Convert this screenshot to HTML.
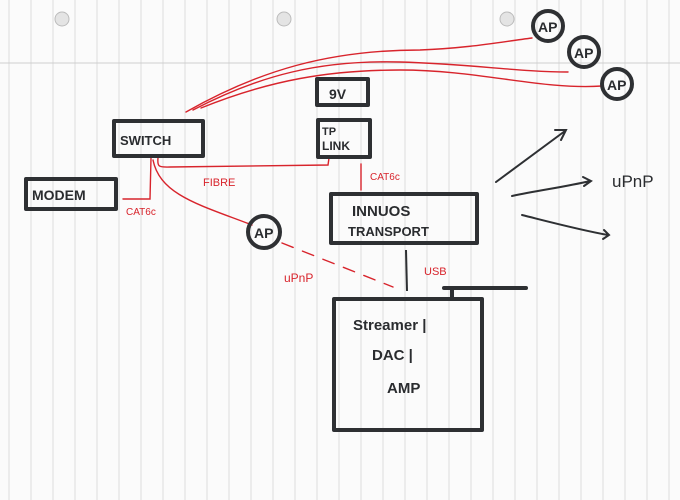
<!DOCTYPE html>
<html><head><meta charset="utf-8"><style>
html,body{margin:0;padding:0;background:#fbfbfb;}
svg{display:block}
.b{fill:none;stroke:#2e3033;stroke-width:4;stroke-linecap:round;stroke-linejoin:round}
.r{fill:none;stroke:#d8242c;stroke-width:1.4;stroke-linecap:round}
.t{font-family:"Liberation Sans",sans-serif;font-weight:bold;fill:#2a2c2f}
.rt{font-family:"Liberation Sans",sans-serif;fill:#d8242c}
</style></head><body>
<svg width="680" height="500" viewBox="0 0 680 500" xmlns="http://www.w3.org/2000/svg">
<rect width="680" height="500" fill="#fbfbfb"/>
<g stroke="#dcdcdc" stroke-width="1">
<line x1="9" y1="0" x2="9" y2="500"/><line x1="31" y1="0" x2="31" y2="500"/><line x1="53" y1="0" x2="53" y2="500"/><line x1="75" y1="0" x2="75" y2="500"/><line x1="97" y1="0" x2="97" y2="500"/><line x1="119" y1="0" x2="119" y2="500"/><line x1="141" y1="0" x2="141" y2="500"/><line x1="163" y1="0" x2="163" y2="500"/><line x1="185" y1="0" x2="185" y2="500"/><line x1="207" y1="0" x2="207" y2="500"/><line x1="229" y1="0" x2="229" y2="500"/><line x1="251" y1="0" x2="251" y2="500"/><line x1="273" y1="0" x2="273" y2="500"/><line x1="295" y1="0" x2="295" y2="500"/><line x1="317" y1="0" x2="317" y2="500"/><line x1="339" y1="0" x2="339" y2="500"/><line x1="361" y1="0" x2="361" y2="500"/><line x1="383" y1="0" x2="383" y2="500"/><line x1="405" y1="0" x2="405" y2="500"/><line x1="427" y1="0" x2="427" y2="500"/><line x1="449" y1="0" x2="449" y2="500"/><line x1="471" y1="0" x2="471" y2="500"/><line x1="493" y1="0" x2="493" y2="500"/><line x1="515" y1="0" x2="515" y2="500"/><line x1="537" y1="0" x2="537" y2="500"/><line x1="559" y1="0" x2="559" y2="500"/><line x1="581" y1="0" x2="581" y2="500"/><line x1="603" y1="0" x2="603" y2="500"/><line x1="625" y1="0" x2="625" y2="500"/><line x1="647" y1="0" x2="647" y2="500"/><line x1="669" y1="0" x2="669" y2="500"/>
<line x1="0" y1="63" x2="680" y2="63" stroke="#cfcfcf"/>
</g>
<g fill="#e4e4e4" stroke="#bbb" stroke-width="1">
<circle cx="62" cy="19" r="7"/><circle cx="284" cy="19" r="7"/><circle cx="507" cy="19" r="7"/>
</g>
<!-- red wires -->
<path class="r" d="M186,112 C260,70 330,50 420,50 C470,48 500,42 532,38"/>
<path class="r" d="M193,110 C260,75 320,60 400,62 C470,64 520,72 568,72"/>
<path class="r" d="M201,108 C270,80 330,70 400,70 C480,70 540,90 602,86"/>
<path class="r" d="M158,158 C157,168 160,167 170,167 L328,165 L329,158" stroke-width="2"/>
<path class="r" d="M151,158 L150,199 L123,199"/>
<path class="r" d="M153,160 C160,195 200,205 252,225"/>
<line class="r" x1="361" y1="164" x2="361" y2="190"/>
<line class="r" x1="282" y1="243" x2="393" y2="287" stroke-dasharray="12,10"/>
<text class="rt" x="203" y="186" font-size="11">FIBRE</text>
<text class="rt" x="370" y="180" font-size="10">CAT6c</text>
<text class="rt" x="126" y="215" font-size="10">CAT6c</text>
<text class="rt" x="284" y="282" font-size="12">uPnP</text>
<text class="rt" x="424" y="275" font-size="11">USB</text>
<!-- boxes -->
<rect class="b" x="114" y="121" width="89" height="35"/>
<text class="t" x="120" y="145" font-size="13">SWITCH</text>
<rect class="b" x="317" y="79" width="51" height="26"/>
<text class="t" x="329" y="99" font-size="14">9V</text>
<rect class="b" x="318" y="120" width="52" height="37"/>
<text class="t" x="322" y="135" font-size="11">TP</text>
<text class="t" x="322" y="150" font-size="12">LINK</text>
<rect class="b" x="26" y="179" width="90" height="30"/>
<text class="t" x="32" y="200" font-size="14">MODEM</text>
<rect class="b" x="331" y="194" width="146" height="49"/>
<text class="t" x="352" y="216" font-size="15">INNUOS</text>
<text class="t" x="348" y="236" font-size="13">TRANSPORT</text>
<rect class="b" x="334" y="299" width="148" height="131"/>
<line class="b" x1="444" y1="288" x2="526" y2="288"/>
<line class="b" x1="452" y1="289" x2="452" y2="298"/>
<line x1="406" y1="250" x2="407" y2="291" stroke="#2e3033" stroke-width="2"/>
<text class="t" x="353" y="330" font-size="15" font-weight="normal">Streamer |</text>
<text class="t" x="372" y="360" font-size="15">DAC |</text>
<text class="t" x="387" y="393" font-size="15">AMP</text>
<!-- APs -->
<g>
<circle class="b" cx="548" cy="26" r="15" stroke-width="3"/>
<circle class="b" cx="584" cy="52" r="15" stroke-width="3"/>
<circle class="b" cx="617" cy="84" r="15" stroke-width="3"/>
<circle class="b" cx="264" cy="232" r="16" stroke-width="3"/>
<text class="t" x="538" y="32" font-size="14">AP</text>
<text class="t" x="574" y="58" font-size="14">AP</text>
<text class="t" x="607" y="90" font-size="14">AP</text>
<text class="t" x="254" y="238" font-size="14">AP</text>
</g>
<!-- arrows -->
<g fill="none" stroke="#2e3033" stroke-width="2" stroke-linecap="round">
<path d="M496,182 L565,131 M555,130 L566,130 L561,140"/>
<path d="M512,196 C540,190 565,187 590,181 M583,177 L591,181 L584,186"/>
<path d="M522,215 C550,222 580,230 608,235 M604,230 L609,235 L603,239"/>
</g>
<text x="612" y="187" font-family="Liberation Sans,sans-serif" font-size="17" fill="#2a2c2f">uPnP</text>
</svg>
</body></html>
